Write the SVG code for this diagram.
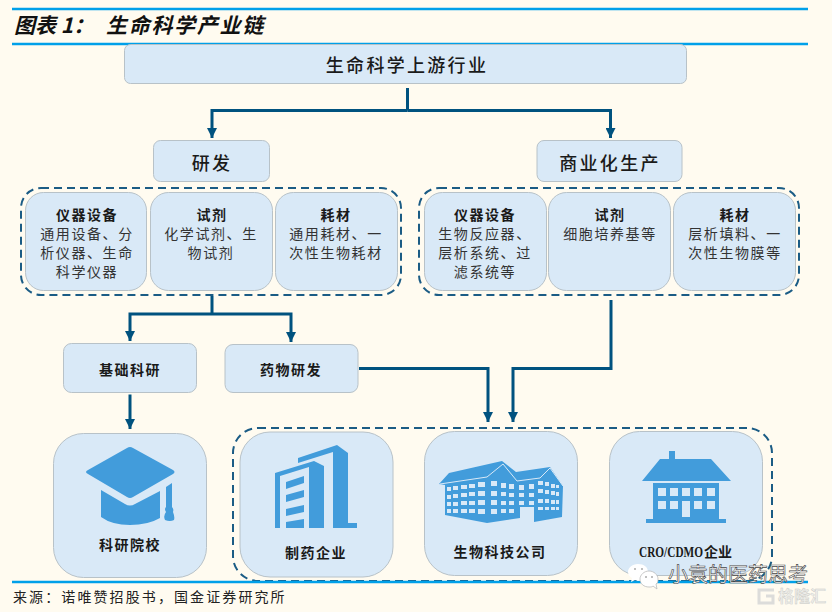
<svg xmlns="http://www.w3.org/2000/svg" width="832" height="612" viewBox="0 0 832 612">
<style>
text{font-family:"Noto Sans CJK SC","Liberation Sans",sans-serif;fill:#1a1a1a}
.card{fill:#d9e9f7;stroke:#b8c2c8;stroke-width:1}
.dash{fill:none;stroke:#1b5c85;stroke-width:2;stroke-dasharray:8 5}
.rule{stroke:#00a0e9;stroke-width:2.4}
.conn{fill:none;stroke:#00527f;stroke-width:3;marker-end:url(#ah)}
.plain{fill:none;stroke:#00527f;stroke-width:3}
.ic{fill:#429cdb}
.w{fill:#d9e9f7}
.big{font-size:18px;letter-spacing:2.3px;text-anchor:middle;font-weight:500}
.hd{font-size:14px;letter-spacing:1.5px;text-anchor:middle;font-weight:700}
.bd{font-size:14px;letter-spacing:1.6px;text-anchor:middle;fill:#333}
.lb{font-size:14px;letter-spacing:1.5px;text-anchor:middle;font-weight:700}
</style>
<defs>
<marker id="ah" markerUnits="userSpaceOnUse" markerWidth="10" markerHeight="10" refX="8" refY="4" orient="auto" viewBox="0 0 8 8"><path d="M0 0L8 4L0 8Z" fill="#00527f"/></marker>
</defs>
<rect width="832" height="612" fill="#fffbf0"/>
<line class="rule" x1="12" y1="9" x2="808" y2="9"/>
<line class="rule" x1="12" y1="44" x2="808" y2="44"/>
<text x="14" y="33" font-size="21" font-weight="700" font-style="italic" style="fill:#111">图表 1：</text>
<text x="106" y="33" font-size="21" font-weight="700" font-style="italic" letter-spacing="1.7" style="fill:#111">生命科学产业链</text>

<g id="connectors">
<path class="plain" d="M407.500 88V110.500"/>
<path class="conn" d="M407.500 110.500H212V138"/>
<path class="conn" d="M407.500 110.500H610.500V138"/>
<path class="plain" d="M212 296V314"/>
<path class="conn" d="M212 314H130V341"/>
<path class="conn" d="M212 314H291V342"/>
<path class="conn" d="M130 394.500V429"/>
<path class="conn" d="M359 368.500H488V422"/>
<path class="conn" d="M611 300V368.500H513V422"/>
</g>

<g id="node-upstream"><rect class="card" x="124.500" y="44.500" width="562" height="39" rx="6"/><text class="big" x="407" y="71.500">生命科学上游行业</text></g>
<g id="node-rd"><rect class="card" x="153.500" y="140.500" width="116" height="41" rx="7"/><text class="big" x="212" y="169.500">研发</text></g>
<g id="node-commercial"><rect class="card" x="537" y="140.500" width="145" height="41" rx="7"/><text class="big" x="610" y="169.500">商业化生产</text></g>

<g id="group-rd">
<rect class="dash" x="21" y="188" width="380" height="107" rx="20"/>
<g id="rd-instruments"><rect class="card" x="25.500" y="192.500" width="121" height="98" rx="18"/><text class="hd" x="87" y="219.500">仪器设备</text><text class="bd" x="87" y="238.500">通用设备、分</text><text class="bd" x="87" y="257.500">析仪器、生命</text><text class="bd" x="87" y="276.500">科学仪器</text></g>
<g id="rd-reagents"><rect class="card" x="150.500" y="192.500" width="122" height="98" rx="18"/><text class="hd" x="212" y="219.500">试剂</text><text class="bd" x="211" y="238.500">化学试剂、生</text><text class="bd" x="211" y="257.500">物试剂</text></g>
<g id="rd-consumables"><rect class="card" x="275.500" y="192.500" width="122" height="98" rx="18"/><text class="hd" x="336" y="219.500">耗材</text><text class="bd" x="336" y="238.500">通用耗材、一</text><text class="bd" x="336" y="257.500">次性生物耗材</text></g>
</g>

<g id="group-commercial">
<rect class="dash" x="419" y="188" width="380" height="107" rx="20"/>
<g id="co-instruments"><rect class="card" x="424.500" y="192.500" width="122" height="98" rx="18"/><text class="hd" x="485" y="219.500">仪器设备</text><text class="bd" x="485" y="238.500">生物反应器、</text><text class="bd" x="485" y="257.500">层析系统、过</text><text class="bd" x="485" y="276.500">滤系统等</text></g>
<g id="co-reagents"><rect class="card" x="548.500" y="192.500" width="122" height="98" rx="18"/><text class="hd" x="610" y="219.500">试剂</text><text class="bd" x="610" y="238.500">细胞培养基等</text></g>
<g id="co-consumables"><rect class="card" x="673.500" y="192.500" width="122" height="98" rx="18"/><text class="hd" x="735" y="219.500">耗材</text><text class="bd" x="735" y="238.500">层析填料、一</text><text class="bd" x="735" y="257.500">次性生物膜等</text></g>
</g>

<g id="node-basic"><rect class="card" x="63.500" y="343.500" width="133" height="49" rx="8"/><text class="lb" x="130" y="375">基础科研</text></g>
<g id="node-drug"><rect class="card" x="225" y="344.500" width="133" height="48" rx="8"/><text class="lb" x="291" y="375">药物研发</text></g>

<g id="node-academia">
<rect class="card" x="53.500" y="433.500" width="153" height="144" rx="30"/>
<path class="ic" d="M127 448Q130 446 133 448L173 470Q176 472 173 474L133 497Q130 499 127 497L88 474Q84 472 88 470Z"/>
<path class="ic" d="M101 490L125 504Q130 507 135 504L160 491V518Q148 525 130 525Q112 525 101 517Z"/>
<path class="ic" d="M166 487L172 483V507Q174 509 173 512Q175 517 174 520Q170 522 165 520Q163 516 166 512Q164 509 166 507Z"/>
<text class="lb" x="130" y="550">科研院校</text>
</g>

<g id="group-companies">
<rect class="dash" x="233" y="428" width="539" height="153" rx="25"/>
<g id="node-pharma">
<rect class="card" x="240" y="432" width="153" height="145" rx="30"/>
<path class="ic" fill-rule="evenodd" d="M275 473L314 461L324 466V528H309V467L280 476V528H275Z"/>
<path class="ic" d="M286 482L304 476V483L286 489ZM286 495L304 490V497L286 502ZM286 509L304 505V512L286 516ZM286 522L304 519V528H286Z"/>
<path class="ic" d="M298 458L337 445L348 453V523H357V528H333V452L298 463Z"/>
<text class="lb" x="316" y="558">制药企业</text>
</g>
<g id="node-biotech">
<rect class="card" x="424.500" y="431.500" width="153" height="144" rx="30"/>
<path class="ic" d="M439 484L449 473L502 461L516 472L550 467L563 486L562 517L534 522V507H520V518L487 523L445 515V485Z"/>
<path fill="none" stroke="#d9e9f7" stroke-width="1" d="M440 484L487 477L503 464L517 481L540 478L550 468L563 486"/>
<g class="w">
<rect x="447" y="487" width="4" height="4"/><rect x="453" y="486" width="5" height="4"/><rect x="461" y="485" width="6" height="4"/><rect x="469" y="484" width="6" height="4"/><rect x="478" y="482" width="7" height="5"/>
<rect x="447" y="495" width="4" height="4"/><rect x="453" y="494" width="5" height="4"/><rect x="461" y="493" width="6" height="4"/><rect x="469" y="492" width="6" height="4"/><rect x="478" y="491" width="7" height="5"/>
<rect x="447" y="502" width="4" height="4"/><rect x="453" y="502" width="5" height="4"/><rect x="461" y="501" width="6" height="4"/><rect x="469" y="501" width="6" height="4"/><rect x="478" y="500" width="7" height="5"/>
<rect x="447" y="509" width="4" height="4"/><rect x="453" y="509" width="5" height="4"/><rect x="461" y="509" width="6" height="4"/><rect x="469" y="509" width="6" height="4"/><rect x="478" y="509" width="7" height="5"/>
<rect x="491" y="481" width="6" height="5"/><rect x="501" y="483" width="5" height="5"/><rect x="509" y="484" width="5" height="5"/>
<rect x="491" y="491" width="6" height="5"/><rect x="501" y="492" width="5" height="4"/><rect x="509" y="493" width="5" height="4"/>
<rect x="491" y="500" width="6" height="5"/><rect x="501" y="501" width="5" height="4"/><rect x="509" y="501" width="5" height="4"/>
<rect x="491" y="509" width="6" height="5"/><rect x="501" y="509" width="5" height="4"/><rect x="509" y="509" width="5" height="4"/>
<rect x="519" y="485" width="5" height="5"/><rect x="529" y="484" width="5" height="5"/>
<rect x="519" y="493" width="5" height="4"/><rect x="529" y="493" width="5" height="4"/>
<rect x="519" y="501" width="5" height="4"/><rect x="529" y="501" width="5" height="4"/>
<rect x="538" y="481" width="5" height="4"/><rect x="545" y="482" width="4" height="4"/><rect x="551" y="484" width="4" height="4"/><rect x="556" y="485" width="3" height="3"/>
<rect x="538" y="489" width="5" height="4"/><rect x="545" y="490" width="4" height="4"/><rect x="551" y="491" width="4" height="4"/><rect x="556" y="492" width="3" height="4"/>
<rect x="538" y="499" width="5" height="4"/><rect x="545" y="499" width="4" height="4"/><rect x="551" y="500" width="4" height="4"/><rect x="556" y="500" width="3" height="4"/>
<rect x="538" y="507" width="5" height="3"/><rect x="545" y="507" width="4" height="3"/><rect x="551" y="507" width="4" height="3"/><rect x="556" y="507" width="3" height="3"/>
</g>
<text class="lb" x="500" y="557">生物科技公司</text>
</g>
<g id="node-cro">
<rect class="card" x="609.500" y="431.500" width="153" height="144" rx="30"/>
<path class="ic" d="M642 481L660 459H669V451H675V459H711L731 481Z"/>
<path class="ic" d="M653 483H719V519H726V523H646V519H653Z"/>
<g class="w">
<rect x="658" y="488" width="8" height="8"/><rect x="670" y="488" width="8" height="8"/><rect x="682" y="488" width="8" height="8"/><rect x="694" y="488" width="8" height="8"/><rect x="707" y="488" width="8" height="8"/>
<rect x="658" y="501" width="8" height="8"/><rect x="670" y="501" width="8" height="8"/><rect x="682" y="501" width="8" height="16"/><rect x="694" y="501" width="8" height="8"/><rect x="707" y="501" width="8" height="8"/>
</g>
<text x="639" y="557" font-size="14" font-weight="700" textLength="64" lengthAdjust="spacingAndGlyphs" style="font-family:'Liberation Serif',serif">CRO/CDMO</text>
<text x="704" y="557" font-size="14" font-weight="700">企业</text>
</g>
</g>

<line class="rule" x1="12" y1="582" x2="808" y2="582"/>
<text x="13" y="602" font-size="14" letter-spacing="2.1" style="fill:#222">来源：诺唯赞招股书，国金证券研究所</text>

<g id="watermark">
<path d="M638 564C632 564 628 568 628 572C628 575 630 577 632 578L631 582L635 580C637 581 640 581 642 580C648 580 649 576 648 572C648 567 644 564 638 564Z" fill="#fff"/>
<circle cx="635" cy="569" r="1" fill="#aaa"/><circle cx="642" cy="569" r="1" fill="#aaa"/>
<path d="M649 571C644 571 640 575 640 579C640 584 644 587 649 587C651 587 652 587 653 586L657 589L656 584C658 583 658 581 658 579C658 575 654 571 649 571Z" fill="#fff" stroke="#bbb" stroke-width=".8"/>
<circle cx="646" cy="577" r="1" fill="#aaa"/><circle cx="652" cy="577" r="1" fill="#aaa"/>
<text x="668" y="582" font-size="20" style="fill:#fff;stroke:#444;stroke-width:.6">小袁的医药思考</text>
<path d="M774 590H759V603H773V596H766" fill="none" stroke="#dcdcda" stroke-width="3"/>
<text x="778" y="602" font-size="16" font-weight="700" style="fill:#eeeeea;stroke:#c8c8c4;stroke-width:.4">格隆汇</text>
</g>
</svg>
